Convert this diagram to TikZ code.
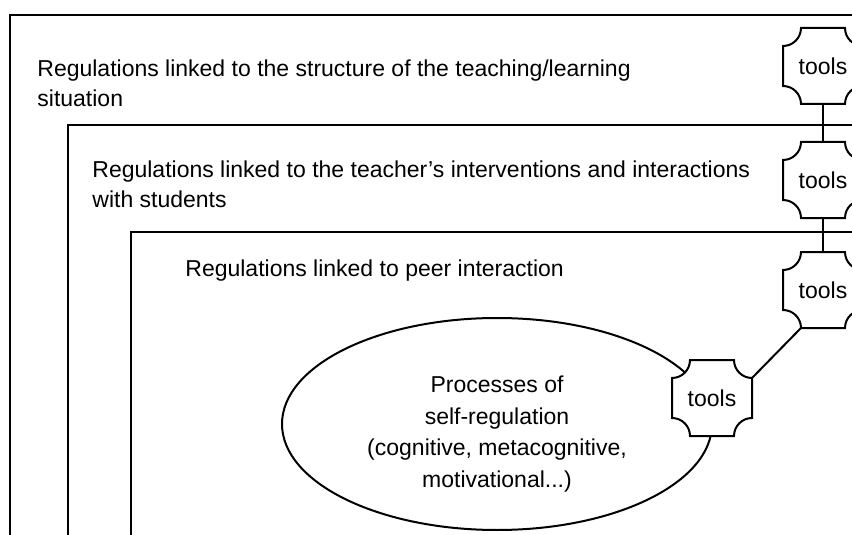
\documentclass[tikz,border=0pt]{standalone}
\usepackage{fontspec}
\setmainfont{Liberation Sans}
\usetikzlibrary{calc,shapes.geometric}

\tikzset{
  frame/.style={line width=1pt},
  link/.style={line width=1pt},
  regtext/.style={anchor=base west, align=left, inner sep=0pt,
    font=\fontsize{11.5pt}{15pt}\selectfont},
  toolstext/.style={minimum width=40pt, minimum height=38pt, inner sep=0pt,
    font=\fontsize{11.5pt}{15pt}\selectfont}
}

% tools box with concave corners, centred at (#2,#3)
\newcommand{\toolsbox}[3]{%
  \filldraw[link, fill=white] (#2-22,#3-38) -- (#2+22,#3-38)
    arc[start angle=180, end angle=90, radius=18] -- (#2+40,#3+20)
    arc[start angle=270, end angle=180, radius=18] -- (#2-22,#3+38)
    arc[start angle=360, end angle=270, radius=18] -- (#2-40,#3-20)
    arc[start angle=90, end angle=0, radius=18] -- cycle;
  \node[toolstext] (#1) at (#2,#3) {tools};
}

\begin{document}
\begin{tikzpicture}[x=0.5pt, y=-0.5pt]
  \useasboundingbox (0,0) rectangle (852,535);
  \clip (0,0) rectangle (852,535);

  % Nested frames
  \draw[frame] (10,15) rectangle (900,600);
  \draw[frame] (68,125) rectangle (900,600);
  \draw[frame] (131,232) rectangle (900,600);

  % base anchor sits on the last line
  \node[regtext] (structure) at (37,107)
    {Regulations linked to the structure of the teaching/learning\\situation};
  \node[regtext] (teacher) at (92,207)
    {Regulations linked to the teacher’s interventions and interactions\\with students};
  \node[regtext] (peer) at (185,276) {Regulations linked to peer interaction};

  % Self-regulation ellipse
  \node[draw, ellipse, line width=1pt, minimum width=215pt, minimum height=106pt,
    inner sep=0pt] (self) at (497,424) {};
  \node[align=center, inner sep=0pt, font=\fontsize{11.5pt}{15.8pt}\selectfont]
    (selftext) at (497,434)
    {Processes of\\self-regulation\\(cognitive, metacognitive,\\motivational...)};

  % Tools boxes
  \toolsbox{tools1}{823}{66}
  \toolsbox{tools2}{823}{180}
  \toolsbox{tools3}{823}{290}
  \toolsbox{tools4}{712}{398}

  % Links between tools
  \draw[link] (tools1.south) -- (tools2.north);
  \draw[link] (tools2.south) -- (tools3.north);
  \draw[link] ($(tools3.south west)+(18,0)$) -- ($(tools4.north east)+(0,18)$);

\end{tikzpicture}
\end{document}
